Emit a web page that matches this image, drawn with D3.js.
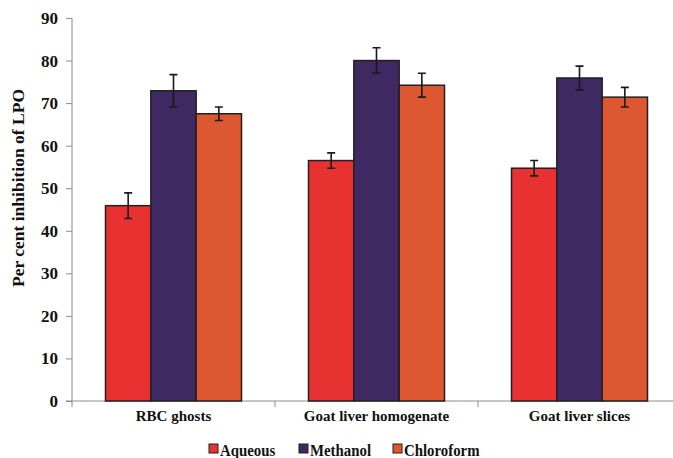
<html>
<head>
    <script src="https://d3js.org/d3.v7.min.js"></script>
    <style>
        body { margin: 0; background: #fff; }
        svg text { font-family: "Liberation Serif", "Times New Roman", serif; font-weight: bold; fill: #111; }
    </style>
</head>
<body>
    <svg id="svg" width="673" height="458"></svg>
    <script>
        // **** Data ****
        const categories = ['RBC ghosts', 'Goat liver homogenate', 'Goat liver slices']
        const seriesNames = ['Aqueous', 'Methanol', 'Chloroform']
        const seriesColors = ['#e83231', '#3e2962', '#dd5731']
        const aqueous = [45.9, 56.5, 54.7]
        const aqueousErr = [3.0, 1.8, 1.8]
        const methanol = [72.9, 80.0, 75.9]
        const methanolErr = [3.8, 3.0, 2.8]
        const chloroform = [67.5, 74.2, 71.4]
        const chloroformErr = [1.6, 2.8, 2.3]
        const yTicks = [0, 10, 20, 30, 40, 50, 60, 70, 80, 90]

        const values = [aqueous, methanol, chloroform]
        const errors = [aqueousErr, methanolErr, chloroformErr]

        const mLeft = 72, mRight = 681, mTop = 18, mBottom = 401
        const svg = d3.select('#svg')

        const x = d3.scaleBand().domain(categories).range([mLeft, mRight])
        const groupW = 136
        const sub = d3.scaleBand().domain(seriesNames).range([(x.bandwidth() - groupW) / 2, (x.bandwidth() + groupW) / 2])
        const y = d3.scaleLinear().domain([0, 90]).range([mBottom, mTop])

        // y axis
        const yAxis = svg.append('g')
            .attr('transform', `translate(${mLeft},0)`)
            .call(d3.axisLeft(y).tickValues(yTicks).tickSize(6).tickPadding(8))
        yAxis.selectAll('path, line').attr('stroke', '#8c8c8c')
        yAxis.select('.domain').attr('d', `M0,${mTop}V${mBottom}`)
        yAxis.selectAll('text').style('font-size', '17px').attr('fill', '#111')

        // x axis line + boundary ticks
        const xg = svg.append('g')
        xg.append('line')
            .attr('x1', mLeft - 6).attr('x2', 673)
            .attr('y1', mBottom).attr('y2', mBottom)
            .attr('stroke', '#8c8c8c')
        xg.selectAll('.bt')
            .data(categories)
            .enter()
            .append('line')
            .attr('x1', d => x(d)).attr('x2', d => x(d))
            .attr('y1', mBottom).attr('y2', mBottom + 6)
            .attr('stroke', '#8c8c8c')
        xg.selectAll('.cl')
            .data(categories)
            .enter()
            .append('text')
            .attr('x', d => x(d) + x.bandwidth() / 2)
            .attr('y', 421)
            .attr('text-anchor', 'middle')
            .style('font-size', '15px')
            .text(d => d)

        // bars
        seriesNames.forEach((s, si) => {
            const g = svg.append('g')
            g.selectAll('rect')
                .data(categories)
                .enter()
                .append('rect')
                .attr('x', d => x(d) + sub(s))
                .attr('y', (d, i) => y(values[si][i]))
                .attr('width', sub.bandwidth())
                .attr('height', (d, i) => mBottom - y(values[si][i]))
                .attr('fill', seriesColors[si])
                .attr('stroke', '#231f20')
                .attr('stroke-width', 1.5)
            // error bars
            const cx = d => x(d) + sub(s) + sub.bandwidth() / 2
            g.selectAll('.ev')
                .data(categories)
                .enter()
                .append('path')
                .attr('d', (d, i) => {
                    const hi = y(values[si][i] + errors[si][i])
                    const lo = y(values[si][i] - errors[si][i])
                    const c = cx(d)
                    return `M${c},${hi}V${lo}M${c - 4},${hi}H${c + 4}M${c - 4},${lo}H${c + 4}`
                })
                .attr('fill', 'none')
                .attr('stroke', '#1a1a1a')
                .attr('stroke-width', 1.6)
        })

        // y label
        svg.append('text')
            .attr('transform', `translate(24,${188}) rotate(-90)`)
            .attr('text-anchor', 'middle')
            .style('font-size', '17.5px')
            .text('Per cent inhibition of LPO')

        // legend
        const legendX = [209, 299, 393]
        const leg = svg.append('g')
        leg.selectAll('rect')
            .data(seriesNames)
            .enter()
            .append('rect')
            .attr('x', (d, i) => legendX[i])
            .attr('y', 444)
            .attr('width', 9)
            .attr('height', 9)
            .attr('fill', (d, i) => seriesColors[i])
            .attr('stroke', '#231f20')
            .attr('stroke-width', 1)
        leg.selectAll('text')
            .data(seriesNames)
            .enter()
            .append('text')
            .attr('transform', (d, i) => `translate(${legendX[i] + 11},456) scale(0.9,1)`)
            .style('font-size', '16.5px')
            .text(d => d)
    </script>
</body>
</html>
